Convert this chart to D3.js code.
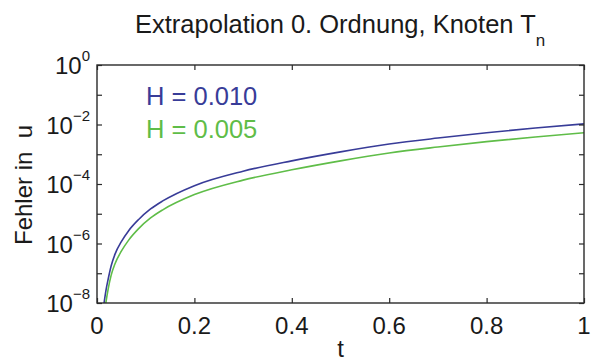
<!DOCTYPE html>
<html>
  <meta charset="utf-8">
  <style>
  body { margin: 0; background: #fff; }
  text { font-family: "Liberation Sans", Arial, sans-serif; fill: #1a1a1a; }
  .axis line, .axis path { stroke: #2a2a2a; }
  </style>
  <head>
    <script src="https://d3js.org/d3.v7.min.js"></script>
  </head>
  <body>
    <script>
      // values
      var tValues = [0.0145, 0.0185, 0.023, 0.029, 0.037, 0.05, 0.065, 0.085, 0.11, 0.135, 0.2, 0.3, 0.4, 0.5, 0.6, 0.7, 0.8, 0.9, 1.0];
      var errH010 = [1e-8, 2.7e-8, 6.4e-8, 1.75e-7, 4.4e-7, 1.15e-6, 2.7e-6, 6.3e-6, 1.45e-5, 2.7e-5, 8.8e-5, 2.7e-4, 6e-4, 1.2e-3, 2.2e-3, 3.5e-3, 5.3e-3, 7.6e-3, 1.05e-2];
      var errH005 = [4e-9, 1.1e-8, 3e-8, 8.5e-8, 2.1e-7, 5.5e-7, 1.3e-6, 3.1e-6, 7.2e-6, 1.35e-5, 4.4e-5, 1.35e-4, 3e-4, 6e-4, 1.1e-3, 1.75e-3, 2.65e-3, 3.8e-3, 5.3e-3];
      var seriesNames = ["H = 0.010", "H = 0.005"];
      var seriesColors = ["#383c98", "#5fbd48"];
      var xTicks = [0, 0.2, 0.4, 0.6, 0.8, 1];
      var yTicksMinor = [1e0, 1e-1, 1e-2, 1e-3, 1e-4, 1e-5, 1e-6, 1e-7, 1e-8];
      var yTickLabels = [0, -2, -4, -6, -8];

      var width = 592,
          height = 361,
          mLeft = 97, mRight = 584, mTop = 65, mBottom = 303;

      var svg = d3.select("body").append("svg")
          .attr("width", width)
          .attr("height", height);

      var x = d3.scaleLinear().domain([0, 1]).range([mLeft, mRight]);
      var y = d3.scaleLog().domain([1e-8, 1]).range([mBottom, mTop]);

      svg.append("clipPath").attr("id", "plotclip")
        .append("rect")
          .attr("x", mLeft).attr("y", mTop)
          .attr("width", mRight - mLeft).attr("height", mBottom - mTop);

      var line = d3.line()
          .x(function(d) { return x(d[0]); })
          .y(function(d) { return y(d[1]); })
          .curve(d3.curveMonotoneX);

      var series = [errH010, errH005];
      series.forEach(function(vals, i) {
        svg.append("path")
            .attr("clip-path", "url(#plotclip)")
            .attr("d", line(tValues.map(function(t, j) { return [t, vals[j]]; })))
            .attr("fill", "none")
            .attr("stroke", seriesColors[i])
            .attr("stroke-width", 1.6);
      });

      // ticks: inward, on all four sides
      var tl = 5;
      var axes = svg.append("g").attr("class", "axis");
      axes.append("g").attr("transform", "translate(0," + mBottom + ")")
          .call(d3.axisBottom(x).tickValues(xTicks).tickSize(-tl).tickFormat(""));
      axes.append("g").attr("transform", "translate(0," + mTop + ")")
          .call(d3.axisTop(x).tickValues(xTicks).tickSize(-tl).tickFormat(""));
      axes.append("g").attr("transform", "translate(" + mLeft + ",0)")
          .call(d3.axisLeft(y).tickValues(yTicksMinor).tickSize(-tl).tickFormat(""));
      axes.append("g").attr("transform", "translate(" + mRight + ",0)")
          .call(d3.axisRight(y).tickValues(yTicksMinor).tickSize(-tl).tickFormat(""));
      axes.selectAll(".domain").remove();
      axes.selectAll("line").attr("stroke-width", 1.2);
      axes.append("rect")
          .attr("x", mLeft).attr("y", mTop)
          .attr("width", mRight - mLeft).attr("height", mBottom - mTop)
          .attr("fill", "none").attr("stroke", "#2a2a2a").attr("stroke-width", 1.4);

      // x tick labels
      svg.selectAll(".xlab").data(xTicks).enter().append("text")
          .attr("x", function(d) { return x(d); })
          .attr("y", 334)
          .attr("text-anchor", "middle")
          .style("font-size", "24px")
          .text(function(d) { return d; });

      // y tick labels 10^k
      var ylab = svg.selectAll(".ylab").data(yTickLabels).enter().append("text")
          .attr("x", 90)
          .attr("y", function(d) { return y(Math.pow(10, d)) + 9; })
          .attr("text-anchor", "end")
          .style("font-size", "24px");
      ylab.append("tspan").text("10");
      ylab.append("tspan").attr("dy", -13).style("font-size", "15px")
          .text(function(d) { return d === 0 ? "0" : "\u2212" + (-d); });

      // legend texts
      seriesNames.forEach(function(name, i) {
        svg.append("text")
            .attr("x", 146)
            .attr("y", 105 + i * 33)
            .style("font-size", "25.5px")
            .style("fill", seriesColors[i])
            .text(name);
      });

      // title
      var title = svg.append("text")
          .attr("x", 135).attr("y", 33)
          .style("font-size", "25.5px");
      title.append("tspan").text("Extrapolation 0. Ordnung, Knoten T");
      title.append("tspan").attr("dy", 13).style("font-size", "17px").text("n");

      // axis labels
      svg.append("text")
          .attr("x", (mLeft + mRight) / 2).attr("y", 357)
          .attr("text-anchor", "middle")
          .style("font-size", "24px")
          .text("t");
      svg.append("text")
          .attr("transform", "translate(32,185) rotate(-90)")
          .attr("text-anchor", "middle")
          .style("font-size", "24px")
          .style("white-space", "pre")
          .text("Fehler in  u");
    </script>
  </body>
</html>
